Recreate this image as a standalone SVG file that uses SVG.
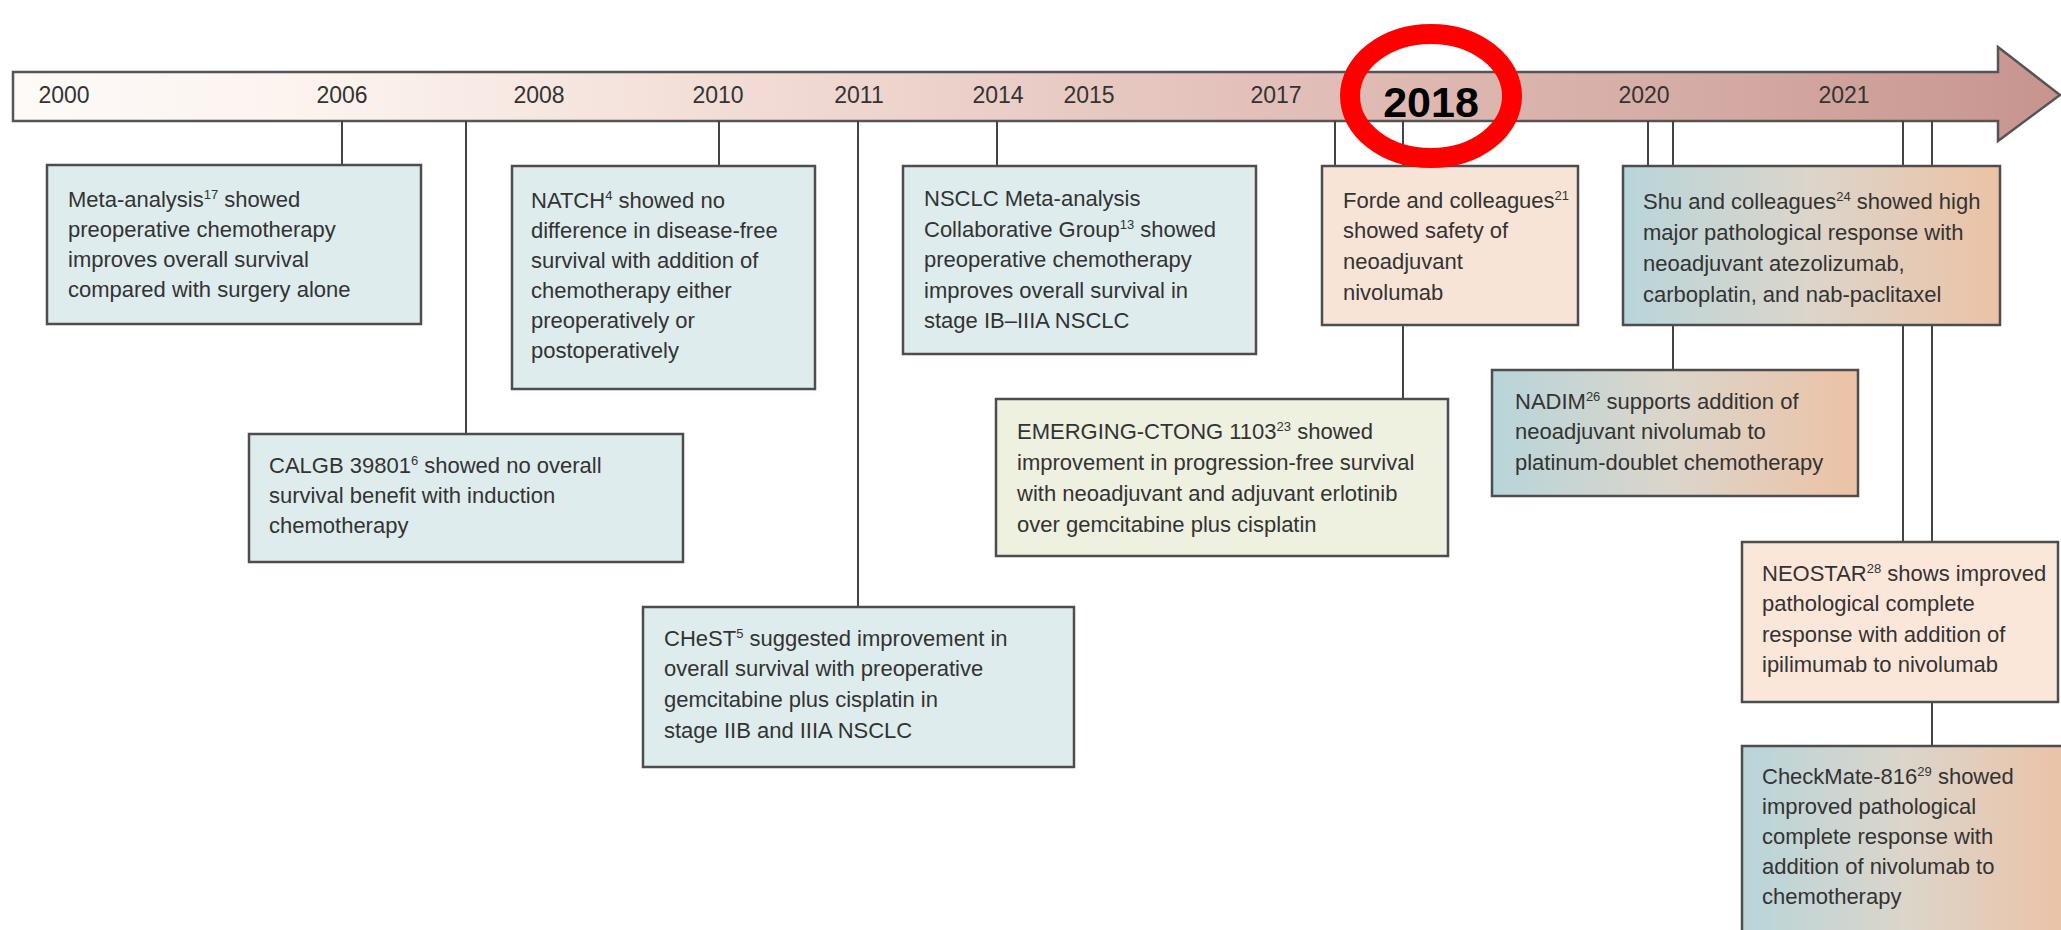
<svg xmlns="http://www.w3.org/2000/svg" width="2061" height="930" viewBox="0 0 2061 930">
  <defs>
    <linearGradient id="barGrad" gradientUnits="userSpaceOnUse" x1="13" y1="0" x2="2060" y2="0">
      <stop offset="0" stop-color="#fdfaf8"/>
      <stop offset="0.15" stop-color="#fcf3ee"/>
      <stop offset="0.35" stop-color="#f2ddd6"/>
      <stop offset="0.6" stop-color="#e3c1ba"/>
      <stop offset="0.85" stop-color="#d3a8a2"/>
      <stop offset="1" stop-color="#c7948e"/>
    </linearGradient>
    <linearGradient id="mixGrad" x1="0" y1="0" x2="1" y2="0">
      <stop offset="0" stop-color="#b8d5da"/>
      <stop offset="0.5" stop-color="#dcd5ca"/>
      <stop offset="1" stop-color="#ecc2a5"/>
    </linearGradient>
  </defs>
  <style>
    .box { stroke: #4d4d4d; stroke-width: 2.5; }
    .blue { fill: #deeced; }
    .peach { fill: #f8e4d6; }
    .green { fill: #eef0e0; }
    .mix { fill: url(#mixGrad); }
    .conn line { stroke: #444; stroke-width: 2; }
    text { font-family: "Liberation Sans", Arial, sans-serif; fill: #333; }
    .t { font-size: 22px; }
    .yr { font-size: 23px; text-anchor: middle; }
    .sup { font-size: 13px; }
  </style>
  <rect width="2061" height="930" fill="#ffffff"/>

  <g id="timeline">
    <path d="M13,72 H1998 V47 L2060,95 L1998,141 V121 H13 Z" fill="url(#barGrad)" stroke="#555" stroke-width="2.5" stroke-linejoin="miter"/>
    <text class="yr" x="64" y="103">2000</text>
    <text class="yr" x="342" y="103">2006</text>
    <text class="yr" x="539" y="103">2008</text>
    <text class="yr" x="718" y="103">2010</text>
    <text class="yr" x="859" y="103">2011</text>
    <text class="yr" x="998" y="103">2014</text>
    <text class="yr" x="1089" y="103">2015</text>
    <text class="yr" x="1276" y="103">2017</text>
    <text class="yr" x="1644" y="103">2020</text>
    <text class="yr" x="1844" y="103">2021</text>
  </g>

  <g id="connectors" class="conn">
    <line x1="342" y1="121" x2="342" y2="165"/>
    <line x1="466" y1="121" x2="466" y2="434"/>
    <line x1="719" y1="121" x2="719" y2="166"/>
    <line x1="858" y1="121" x2="858" y2="607"/>
    <line x1="997" y1="121" x2="997" y2="166"/>
    <line x1="1335" y1="121" x2="1335" y2="166"/>
    <line x1="1403" y1="121" x2="1403" y2="399"/>
    <line x1="1648" y1="121" x2="1648" y2="166"/>
    <line x1="1673" y1="121" x2="1673" y2="370"/>
    <line x1="1903" y1="121" x2="1903" y2="542"/>
    <line x1="1932" y1="121" x2="1932" y2="746"/>
  </g>

  <g id="meta-analysis">
    <rect class="box blue" x="47" y="165" width="374" height="159"/>
    <text class="t" x="68" y="207">Meta-analysis<tspan class="sup" dy="-8">17</tspan><tspan dy="8"> showed</tspan></text>
    <text class="t" x="68" y="237">preoperative chemotherapy</text>
    <text class="t" x="68" y="267">improves overall survival</text>
    <text class="t" x="68" y="297">compared with surgery alone</text>
  </g>

  <g id="calgb">
    <rect class="box blue" x="249" y="434" width="434" height="128"/>
    <text class="t" x="269" y="473">CALGB 39801<tspan class="sup" dy="-8">6</tspan><tspan dy="8"> showed no overall</tspan></text>
    <text class="t" x="269" y="503">survival benefit with induction</text>
    <text class="t" x="269" y="533">chemotherapy</text>
  </g>

  <g id="natch">
    <rect class="box blue" x="512" y="166" width="303" height="223"/>
    <text class="t" x="531" y="208">NATCH<tspan class="sup" dy="-8">4</tspan><tspan dy="8"> showed no</tspan></text>
    <text class="t" x="531" y="238">difference in disease-free</text>
    <text class="t" x="531" y="268">survival with addition of</text>
    <text class="t" x="531" y="298">chemotherapy either</text>
    <text class="t" x="531" y="328">preoperatively or</text>
    <text class="t" x="531" y="358">postoperatively</text>
  </g>

  <g id="chest">
    <rect class="box blue" x="643" y="607" width="431" height="160"/>
    <text class="t" x="664" y="646">CHeST<tspan class="sup" dy="-8">5</tspan><tspan dy="8"> suggested improvement in</tspan></text>
    <text class="t" x="664" y="676">overall survival with preoperative</text>
    <text class="t" x="664" y="707">gemcitabine plus cisplatin in</text>
    <text class="t" x="664" y="738">stage IIB and IIIA NSCLC</text>
  </g>

  <g id="nsclc">
    <rect class="box blue" x="903" y="166" width="353" height="188"/>
    <text class="t" x="924" y="206">NSCLC Meta-analysis</text>
    <text class="t" x="924" y="237">Collaborative Group<tspan class="sup" dy="-8">13</tspan><tspan dy="8"> showed</tspan></text>
    <text class="t" x="924" y="267">preoperative chemotherapy</text>
    <text class="t" x="924" y="298">improves overall survival in</text>
    <text class="t" x="924" y="328">stage IB–IIIA NSCLC</text>
  </g>

  <g id="emerging">
    <rect class="box green" x="996" y="399" width="452" height="157"/>
    <text class="t" x="1017" y="439">EMERGING-CTONG 1103<tspan class="sup" dy="-8">23</tspan><tspan dy="8"> showed</tspan></text>
    <text class="t" x="1017" y="470">improvement in progression-free survival</text>
    <text class="t" x="1017" y="501">with neoadjuvant and adjuvant erlotinib</text>
    <text class="t" x="1017" y="532">over gemcitabine plus cisplatin</text>
  </g>

  <g id="forde">
    <rect class="box peach" x="1322" y="166" width="256" height="159"/>
    <text class="t" x="1343" y="208">Forde and colleagues<tspan class="sup" dy="-8">21</tspan></text>
    <text class="t" x="1343" y="238">showed safety of</text>
    <text class="t" x="1343" y="269">neoadjuvant</text>
    <text class="t" x="1343" y="300">nivolumab</text>
  </g>

  <g id="shu">
    <rect class="box mix" x="1623" y="166" width="377" height="159"/>
    <text class="t" x="1643" y="209">Shu and colleagues<tspan class="sup" dy="-8">24</tspan><tspan dy="8"> showed high</tspan></text>
    <text class="t" x="1643" y="240">major pathological response with</text>
    <text class="t" x="1643" y="271">neoadjuvant atezolizumab,</text>
    <text class="t" x="1643" y="302">carboplatin, and nab-paclitaxel</text>
  </g>

  <g id="nadim">
    <rect class="box mix" x="1492" y="370" width="366" height="126"/>
    <text class="t" x="1515" y="409">NADIM<tspan class="sup" dy="-8">26</tspan><tspan dy="8"> supports addition of</tspan></text>
    <text class="t" x="1515" y="439">neoadjuvant nivolumab to</text>
    <text class="t" x="1515" y="470">platinum-doublet chemotherapy</text>
  </g>

  <g id="neostar">
    <rect class="box" fill="#fbe7da" x="1742" y="542" width="316" height="160"/>
    <text class="t" x="1762" y="581">NEOSTAR<tspan class="sup" dy="-8">28</tspan><tspan dy="8"> shows improved</tspan></text>
    <text class="t" x="1762" y="611">pathological complete</text>
    <text class="t" x="1762" y="642">response with addition of</text>
    <text class="t" x="1762" y="672">ipilimumab to nivolumab</text>
  </g>

  <g id="checkmate">
    <rect class="box mix" x="1742" y="746" width="330" height="200"/>
    <text class="t" x="1762" y="784">CheckMate-816<tspan class="sup" dy="-8">29</tspan><tspan dy="8"> showed</tspan></text>
    <text class="t" x="1762" y="814">improved pathological</text>
    <text class="t" x="1762" y="844">complete response with</text>
    <text class="t" x="1762" y="874">addition of nivolumab to</text>
    <text class="t" x="1762" y="904">chemotherapy</text>
  </g>

  <g id="highlight-2018">
    <text x="1431" y="117" font-size="43" font-weight="bold" text-anchor="middle" style="fill:#000">2018</text>
    <ellipse cx="1431" cy="96" rx="81" ry="62" fill="none" stroke="#ff0000" stroke-width="20"/>
  </g>
</svg>
